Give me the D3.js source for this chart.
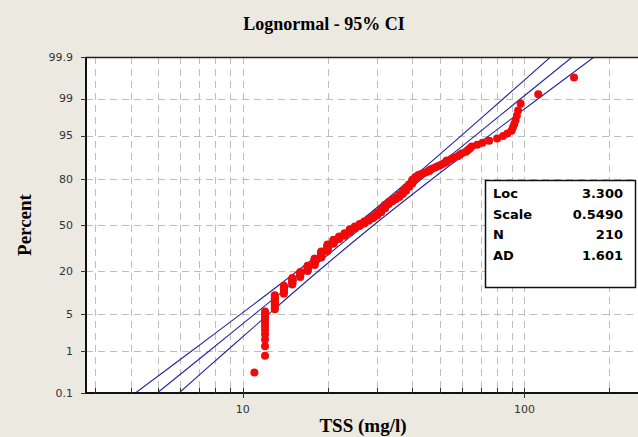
<!DOCTYPE html>
<html>
<head>
<meta charset="utf-8">
<script src="https://cdn.jsdelivr.net/npm/d3@7"></script>
<style>
  body { margin: 0; background: #ece9e0; }
  svg { display: block; }
  .tick-label { font-family: "DejaVu Sans", sans-serif; font-size: 11px; fill: #333; }
  .axis-title { font-family: "Liberation Serif", "Times New Roman", serif; font-weight: bold; fill: #000; }
  .stat { font-family: "DejaVu Sans", sans-serif; font-weight: bold; font-size: 13px; fill: #000; }
</style>
</head>
<body>
<div id="chart"></div>
<script>
// TSS sample values (sorted)
const tss = [
  11,
  12,12,12,12,12,12,12,12,12,12,12,
  13,13,13,13,13,13,13,13,13,
  14,14,14,14,14,14,14,
  15,15,15,15,15,15,15,
  16,16,16,16,16,16,
  17,17,17,17,17,17,17,
  18,18,18,18,18,18,18,18,18,
  19,19,19,19,19,19,19,19,19,
  20,20,20,20,20,20,20,20,20,20,
  21,21,21,21,21,21,21,
  22,22,22,22,22,
  23,23,23,23,23,
  24,24,24,24,24,24,
  25,25,25,25, 26,26,26,26, 27,27,27,27, 28,28,28,28, 29,29,29,29,
  30,30,30,30,30, 31,31,31,31,31,31, 32,32,32,32,32,32, 33,33,33,33,
  34,34,34, 35,35,35, 36,36,36,36, 37,37,37,37, 38,38,38,38,38, 39,39,39,39,
  40,40,40,40,40, 41,41,41, 42,42, 43, 44, 45, 46,46, 47, 48, 49, 50, 51, 52, 53,53,
  55, 56, 58, 59, 60, 62, 63, 64, 65, 68, 71, 75, 80, 84, 87, 90, 91, 92, 93, 94, 95, 97, 112, 150
];

// percent ticks and the fitted line / 95% CI read at those percents
const pctTicks = [0.1, 1, 5, 20, 50, 80, 95, 99, 99.9];
const fitTSS = [4.97, 7.56, 10.99, 17.08, 27.11, 43.04, 66.89, 97.24, 147.9];
const ciLowTSS = [4.16, 6.55, 9.81, 15.67, 25.17, 39.48, 59.69, 84.29, 123.7];
const ciHighTSS = [5.94, 8.72, 12.32, 18.62, 29.20, 46.93, 74.96, 112.2, 176.8];

const xGrid = [3, 4, 5, 6, 7, 8, 9, 10, 20, 30, 40, 50, 60, 70, 80, 90, 100, 200];
const xTickLabels = [10, 100];

const statLabels = ["Loc", "Scale", "N", "AD"];
const statValues = ["3.300", "0.5490", "210", "1.601"];

// inverse standard normal cdf (Acklam)
function normInv(p) {
  const a = [-3.969683028665376e+01, 2.209460984245205e+02, -2.759285104469687e+02, 1.383577518672690e+02, -3.066479806614716e+01, 2.506628277459239e+00];
  const b = [-5.447609879822406e+01, 1.615858368580409e+02, -1.556989798598866e+02, 6.680131188771972e+01, -1.328068155288572e+01];
  const c = [-7.784894002430293e-03, -3.223964580411365e-01, -2.400758277161838e+00, -2.549732539343734e+00, 4.374664141464968e+00, 2.938163982698783e+00];
  const d = [7.784695709041462e-03, 3.224671290700398e-01, 2.445134137142996e+00, 3.754408661907416e+00];
  const pl = 0.02425;
  if (p < pl) {
    const q = Math.sqrt(-2 * Math.log(p));
    return (((((c[0]*q+c[1])*q+c[2])*q+c[3])*q+c[4])*q+c[5]) / ((((d[0]*q+d[1])*q+d[2])*q+d[3])*q+1);
  }
  if (p > 1 - pl) {
    const q = Math.sqrt(-2 * Math.log(1 - p));
    return -(((((c[0]*q+c[1])*q+c[2])*q+c[3])*q+c[4])*q+c[5]) / ((((d[0]*q+d[1])*q+d[2])*q+d[3])*q+1);
  }
  const q = p - 0.5, r = q * q;
  return (((((a[0]*r+a[1])*r+a[2])*r+a[3])*r+a[4])*r+a[5])*q / (((((b[0]*r+b[1])*r+b[2])*r+b[3])*r+b[4])*r+1);
}

const W = 638, H = 437;
const plot = { left: 86, top: 57, right: 645, bottom: 393 };

const svg = d3.select("#chart").append("svg")
  .attr("width", W)
  .attr("height", H);

svg.append("rect").attr("width", W).attr("height", H).attr("fill", "#ece9e0");

const xScale = d3.scaleLog()
  .domain([2.777, 268])
  .range([plot.left, plot.right]);

const yScale = d3.scaleLinear()
  .domain([normInv(0.001), normInv(0.999)])
  .range([plot.bottom, plot.top]);

const yPct = p => yScale(normInv(p / 100));

// plot area
svg.append("rect")
  .attr("x", plot.left).attr("y", plot.top)
  .attr("width", plot.right - plot.left).attr("height", plot.bottom - plot.top)
  .attr("fill", "#fff");

svg.append("clipPath").attr("id", "clip")
  .append("rect")
  .attr("x", plot.left).attr("y", plot.top)
  .attr("width", plot.right - plot.left).attr("height", plot.bottom - plot.top);

// grid
const grid = svg.append("g").attr("stroke", "#bdbdbd").attr("stroke-dasharray", "7,5").attr("stroke-width", 1);
grid.selectAll("line.v")
  .data(xGrid)
  .enter().append("line")
  .attr("x1", d => Math.round(xScale(d)) + 0.5).attr("x2", d => Math.round(xScale(d)) + 0.5)
  .attr("y1", plot.top).attr("y2", plot.bottom);
grid.selectAll("line.h")
  .data(pctTicks.slice(1, -1))
  .enter().append("line")
  .attr("y1", d => Math.round(yPct(d)) + 0.5).attr("y2", d => Math.round(yPct(d)) + 0.5)
  .attr("x1", plot.left).attr("x2", plot.right);

// fitted line and confidence bounds
const line = d3.line()
  .x(d => xScale(d[0]))
  .y(d => yPct(d[1]))
  .curve(d3.curveCatmullRom);

const lines = svg.append("g").attr("clip-path", "url(#clip)");
[ciLowTSS, fitTSS, ciHighTSS].forEach(vals => {
  lines.append("path")
    .datum(vals.map((v, i) => [v, pctTicks[i]]))
    .attr("d", line)
    .attr("fill", "none")
    .attr("stroke", "#2323a0")
    .attr("stroke-width", 1.1);
});

// data points at median-rank plotting positions
const n = tss.length;
svg.append("g").attr("clip-path", "url(#clip)")
  .selectAll("circle")
  .data(tss)
  .enter().append("circle")
  .attr("cx", d => xScale(d))
  .attr("cy", (d, i) => yScale(normInv((i + 1 - 0.3) / (n + 0.4))))
  .attr("r", 4)
  .attr("fill", "#f00a0a");

// frame
svg.append("line")
  .attr("x1", plot.left).attr("x2", plot.right)
  .attr("y1", plot.top + 0.5).attr("y2", plot.top + 0.5)
  .attr("stroke", "#222").attr("stroke-width", 1.5);
svg.append("line")
  .attr("x1", plot.left).attr("x2", plot.left)
  .attr("y1", plot.top).attr("y2", plot.bottom + 1)
  .attr("stroke", "#111").attr("stroke-width", 2);
svg.append("line")
  .attr("x1", plot.left).attr("x2", plot.right)
  .attr("y1", plot.bottom).attr("y2", plot.bottom)
  .attr("stroke", "#111").attr("stroke-width", 2);

// y ticks
const yAxis = svg.append("g");
yAxis.selectAll("line")
  .data(pctTicks)
  .enter().append("line")
  .attr("x1", plot.left - 5).attr("x2", plot.left)
  .attr("y1", d => Math.round(yPct(d)) + 0.5).attr("y2", d => Math.round(yPct(d)) + 0.5)
  .attr("stroke", "#333");
yAxis.selectAll("text")
  .data(pctTicks)
  .enter().append("text")
  .attr("class", "tick-label")
  .attr("x", plot.left - 13)
  .attr("y", d => yPct(d))
  .attr("dy", "0.35em")
  .attr("text-anchor", "end")
  .text(d => d);

// x ticks
const xAxis = svg.append("g");
xAxis.selectAll("line.minor")
  .data(xGrid)
  .enter().append("line")
  .attr("x1", d => Math.round(xScale(d)) + 0.5).attr("x2", d => Math.round(xScale(d)) + 0.5)
  .attr("y1", plot.bottom - 5).attr("y2", plot.bottom)
  .attr("stroke", "#333");
xAxis.selectAll("line.major")
  .data(xTickLabels)
  .enter().append("line")
  .attr("x1", d => Math.round(xScale(d)) + 0.5).attr("x2", d => Math.round(xScale(d)) + 0.5)
  .attr("y1", plot.bottom).attr("y2", plot.bottom + 5)
  .attr("stroke", "#333");
xAxis.selectAll("text")
  .data(xTickLabels)
  .enter().append("text")
  .attr("class", "tick-label")
  .attr("x", d => xScale(d))
  .attr("y", plot.bottom + 20)
  .attr("text-anchor", "middle")
  .text(d => d);

// titles
svg.append("text")
  .attr("class", "axis-title")
  .attr("x", 324).attr("y", 30)
  .attr("text-anchor", "middle")
  .attr("font-size", 18)
  .text("Lognormal - 95% CI");
svg.append("text")
  .attr("class", "axis-title")
  .attr("x", 363).attr("y", 432)
  .attr("text-anchor", "middle")
  .attr("font-size", 19)
  .text("TSS (mg/l)");
svg.append("text")
  .attr("class", "axis-title")
  .attr("transform", "translate(31,225) rotate(-90)")
  .attr("text-anchor", "middle")
  .attr("font-size", 19)
  .text("Percent");

// stats box
const box = svg.append("g").attr("transform", "translate(485,180)");
box.append("rect")
  .attr("x", 0.5).attr("y", 0.5)
  .attr("width", 150).attr("height", 107)
  .attr("fill", "#fff")
  .attr("stroke", "#111").attr("stroke-width", 1.5);
box.selectAll("text.lab")
  .data(statLabels)
  .enter().append("text")
  .attr("class", "stat")
  .attr("x", 8)
  .attr("y", (d, i) => 18 + i * 20.6)
  .text(d => d);
box.selectAll("text.val")
  .data(statValues)
  .enter().append("text")
  .attr("class", "stat")
  .attr("x", 138)
  .attr("y", (d, i) => 18 + i * 20.6)
  .attr("text-anchor", "end")
  .text(d => d);
</script>
</body>
</html>
